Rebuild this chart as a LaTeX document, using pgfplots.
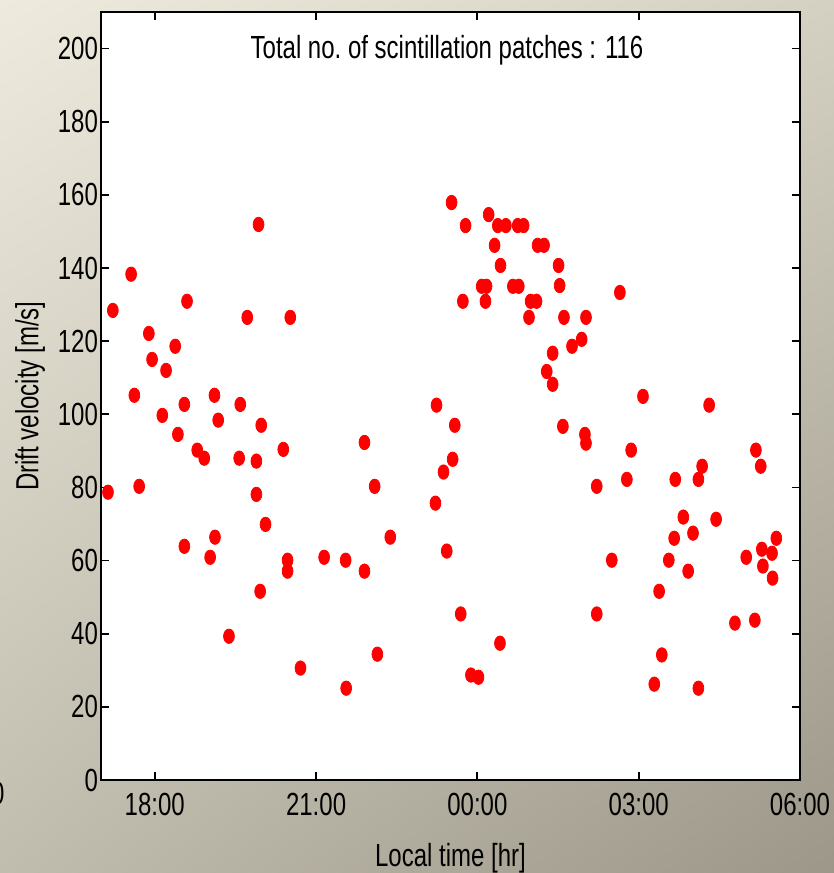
\documentclass[border=0pt]{standalone}
\usepackage{fontspec}
\setmainfont{Liberation Sans}[FakeStretch=0.75]
\usepackage{pgfplots}
\pgfplotsset{compat=1.18}
\usetikzlibrary{shadings}
\definecolor{bgUL}{RGB}{238,235,222}
\definecolor{bgUR}{RGB}{212,208,194}
\definecolor{bgLL}{RGB}{192,188,174}
\definecolor{bgLR}{RGB}{156,151,136}
\newcommand{\lab}{\fontsize{16}{19}\selectfont}

\pgfplotstableread{
h v
17.13 78.7
17.22 128.4
17.56 138.3
17.62 105.2
17.71 80.3
17.89 122.1
17.95 115.0
18.14 99.7
18.21 112.0
18.38 118.6
18.43 94.5
18.55 102.7
18.55 63.9
18.60 130.9
18.79 90.2
18.92 88.0
19.03 60.9
19.11 105.2
19.12 66.4
19.18 98.4
19.38 39.3
19.57 88.0
19.59 102.7
19.72 126.5
19.89 87.2
19.89 78.1
19.93 151.9
19.96 51.6
19.98 97.0
20.06 69.9
20.39 90.4
20.47 60.1
20.47 57.1
20.52 126.5
20.71 30.6
21.15 60.9
21.55 60.1
21.56 25.1
21.90 92.3
21.90 57.1
22.09 80.3
22.14 34.4
22.38 66.4
23.22 75.7
23.24 102.5
23.37 84.2
23.43 62.6
23.54 87.7
23.58 97.0
23.52 157.9
23.69 45.4
23.73 130.9
23.78 151.6
23.88 28.7
24.02 28.1
24.08 135.0
24.17 135.0
24.15 130.9
24.21 154.6
24.32 146.2
24.38 151.6
24.43 140.7
24.42 37.4
24.53 151.6
24.66 135.0
24.75 151.6
24.77 135.0
24.86 151.6
24.96 126.5
24.99 130.9
25.10 130.9
25.12 146.2
25.24 146.2
25.29 111.7
25.40 116.7
25.40 108.2
25.51 140.7
25.53 135.2
25.59 96.7
25.61 126.5
25.76 118.6
25.94 120.5
26.02 126.5
26.00 94.5
26.02 92.1
26.22 80.3
26.22 45.4
26.50 60.1
26.65 133.3
26.78 82.2
26.86 90.2
27.08 104.9
27.29 26.2
27.38 51.6
27.43 34.2
27.56 60.1
27.66 66.1
27.68 82.2
27.83 71.9
27.92 57.1
28.01 67.5
28.11 82.2
28.11 25.1
28.18 85.8
28.31 102.5
28.44 71.3
28.79 42.9
29.00 60.9
29.16 43.7
29.18 90.2
29.27 85.8
29.29 63.1
29.31 58.5
29.48 62.0
29.49 55.2
29.56 66.1
}\patches

\begin{document}
\begin{tikzpicture}
\useasboundingbox (-50.5pt,-46.5pt) rectangle (366.5pt,390pt);
\shade[upper left=bgUL, upper right=bgUR, lower left=bgLL, lower right=bgLR]
  (-50.5pt,-46.5pt) rectangle (366.5pt,390pt);
\node[font=\lab, anchor=east, inner sep=0pt] at (-48pt,-6.5pt) {0};
\begin{axis}[
    at={(0,0)}, anchor=south west,
    scale only axis, width=349.5pt, height=384pt,
    xmin=17, xmax=30, ymin=0, ymax=210,
    xtick={18,21,24,27,30},
    xticklabels={18:00,21:00,00:00,03:00,06:00},
    ytick={0,20,...,200},
    tick align=inside, major tick length=4pt,
    axis line style={line width=1.2pt},
    every tick/.style={black, line width=0.9pt},
    axis background/.style={fill=white},
    /pgf/number format/assume math mode=true,
    ticklabel style={font=\lab},
    xticklabel style={yshift=-3pt},
    yticklabel style={xshift=2pt},
    label style={font=\lab},
    xlabel={Local time [hr]},
    ylabel={Drift velocity [m/s]},
    xlabel style={at={(axis description cs:0.5,-0.1025)}, anchor=center},
    ylabel style={at={(axis description cs:-0.1016,0.5)}, anchor=center},
]
\addplot[only marks, mark=*, color=red, mark size=3.6pt,
  mark options={xscale=0.75, fill=red, draw=none}] table[x=h, y=v] {\patches};
\node[font=\lab, anchor=base] at (rel axis cs:0.495,0.940)
  {Total no.\ of scintillation patches : 116};
\end{axis}
\end{tikzpicture}
\end{document}
